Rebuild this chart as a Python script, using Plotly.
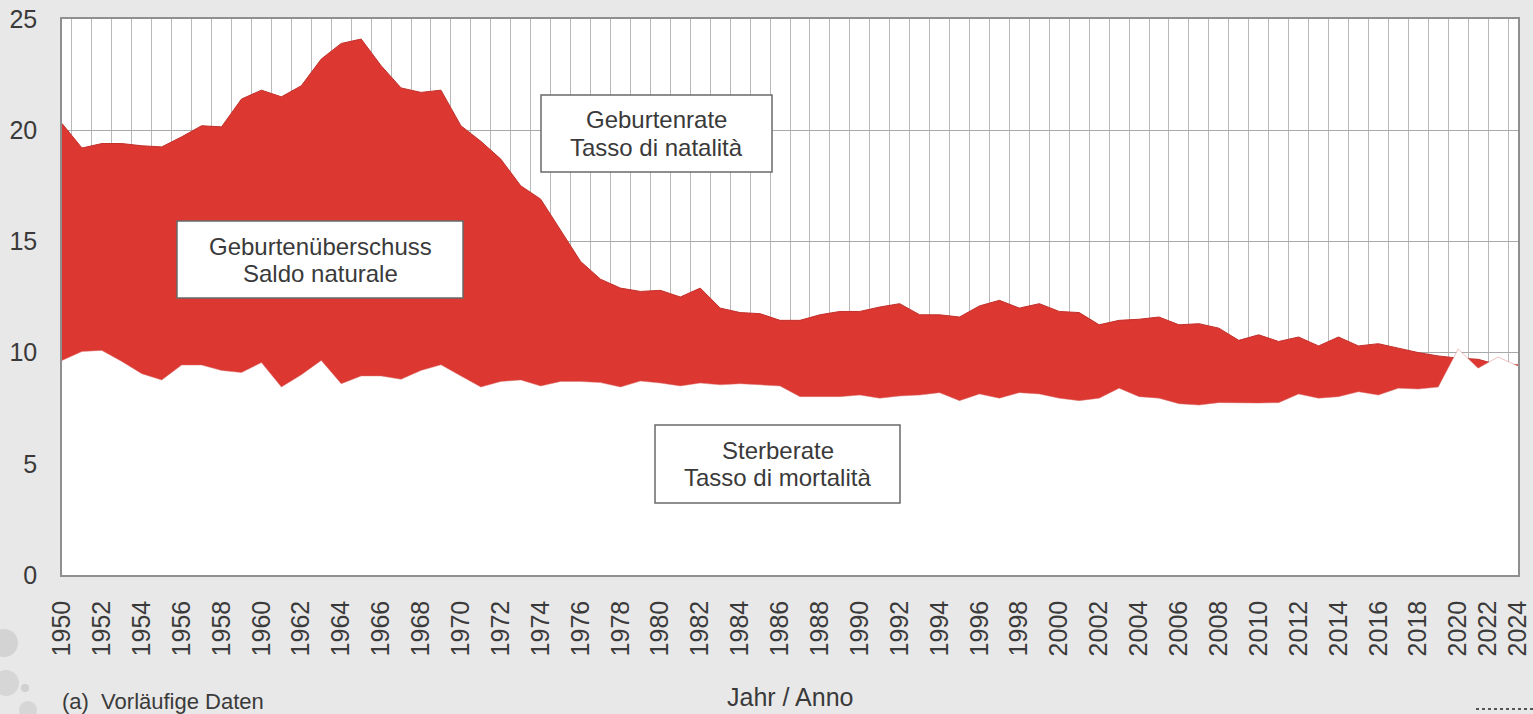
import plotly.graph_objects as go

years = list(range(1950, 2024))

birth_rate = [
    20.3, 19.2, 19.4, 19.4, 19.3, 19.25, 19.7, 20.2, 20.15, 21.4,
    21.8, 21.5, 22.0, 23.2, 23.9, 24.1, 22.9, 21.9, 21.7, 21.8,
    20.2, 19.5, 18.7, 17.5, 16.9, 15.5, 14.1, 13.3, 12.9, 12.75,
    12.8, 12.5, 12.9, 12.0, 11.8, 11.75, 11.45, 11.45, 11.7, 11.85,
    11.85, 12.05, 12.2, 11.7, 11.7, 11.6, 12.1, 12.35, 12.0, 12.2,
    11.85, 11.8, 11.25, 11.45, 11.5, 11.6, 11.25, 11.3, 11.1, 10.55,
    10.8, 10.5, 10.7, 10.3, 10.7, 10.3, 10.4, 10.2, 10.0, 9.85,
    9.75, 9.7, 9.45, 9.45,
]

death_rate = [
    9.65, 10.05, 10.1, 9.6, 9.05, 8.77, 9.44, 9.44, 9.2, 9.1,
    9.55, 8.45, 9.0, 9.65, 8.6, 8.95, 8.95, 8.8, 9.2, 9.45,
    8.95, 8.45, 8.7, 8.77, 8.5, 8.7, 8.7, 8.65, 8.45, 8.72,
    8.63, 8.5, 8.63, 8.55, 8.6, 8.54, 8.5, 8.02, 8.02, 8.02,
    8.09, 7.95, 8.05, 8.09, 8.2, 7.84, 8.14, 7.95, 8.2, 8.14,
    7.95, 7.84, 7.95, 8.4, 8.02, 7.95, 7.7, 7.64, 7.75, 7.73,
    7.73, 7.75, 8.14, 7.95, 8.02, 8.24, 8.09, 8.4, 8.36, 8.45,
    10.16, 9.3, 9.8, 9.4,
]

x_tick_labels = [str(y) for y in range(1950, 2021, 2)] + ["2022", "2024"]
x_tick_positions = list(range(1950, 2021, 2)) + [2021.5, 2023]
y_ticks = [0, 5, 10, 15, 20, 25]

RED = "#dc3731"
FONT = "Liberation Sans, Arial, sans-serif"
TXT = "#3a3a3a"
BG = "#e8e8e8"

fig = go.Figure()
fig.add_trace(go.Scatter(
    x=years, y=birth_rate, mode="lines", fill="tozeroy",
    fillcolor=RED, line=dict(color="#c3302b", width=1),
    name="Geburtenrate", showlegend=False, hoverinfo="x+y",
))
fig.add_trace(go.Scatter(
    x=years, y=death_rate, mode="lines", fill="tozeroy",
    fillcolor="white", line=dict(color="rgba(220,120,115,0.6)", width=0.8),
    name="Sterberate", showlegend=False, hoverinfo="x+y",
))

fig.update_layout(
    width=1533, height=714,
    margin=dict(l=62, r=15, t=19, b=139, autoexpand=False),
    paper_bgcolor=BG, plot_bgcolor="white",
    font=dict(family=FONT, size=26, color=TXT),
    xaxis=dict(
        range=[1950, 2023], tickmode="array",
        tickvals=x_tick_positions, ticktext=x_tick_labels,
        tickangle=-90, tickfont=dict(size=25, color=TXT),
        showgrid=False, ticks="", ticklabelstandoff=14, automargin=False,
        showline=True, linecolor="#8f8f8f", linewidth=1.5, mirror=True,
        minor=dict(tickmode="linear", tick0=1950.5, dtick=1, showgrid=True,
                   gridcolor="#b8b8b8", gridwidth=1, ticks=""),
        zeroline=False,
    ),
    yaxis=dict(
        range=[0, 25], tickmode="array", tickvals=y_ticks,
        tickfont=dict(size=25, color=TXT), automargin=False,
        showgrid=True, gridcolor="#a9a9a9", gridwidth=1, ticks="",
        ticklabelstandoff=18,
        showline=True, linecolor="#8f8f8f", linewidth=1.5, mirror=True,
        zeroline=False,
    ),
)

def px_x(p):
    return (p - 62) / 1456.0

def px_y(p):
    return (575 - p) / 556.0

boxes = [
    ((177, 221, 463, 298), ["Geburtenüberschuss", "Saldo naturale"]),
    ((541, 95, 772, 172), ["Geburtenrate", "Tasso di natalità"]),
    ((655, 425, 900, 503), ["Sterberate", "Tasso di mortalità"]),
]
for (x0, y0, x1, y1), lines in boxes:
    fig.add_shape(type="rect", xref="paper", yref="paper",
                  x0=px_x(x0), x1=px_x(x1), y0=px_y(y1), y1=px_y(y0),
                  fillcolor="white", line=dict(color="#6a6a6a", width=1.5),
                  layer="above")
    cx = (x0 + x1) / 2
    cy = (y0 + y1) / 2
    for i, t in enumerate(lines):
        fig.add_annotation(text=t, xref="paper", yref="paper",
                           x=px_x(cx), y=px_y(cy + (i - 0.5) * 27),
                           xanchor="center", yanchor="middle",
                           showarrow=False, font=dict(size=24, color=TXT))

fig.add_annotation(text="Jahr / Anno", xref="paper", yref="paper",
                   x=px_x(790), y=px_y(697), xanchor="center", yanchor="middle",
                   showarrow=False, font=dict(size=25, color=TXT))
fig.add_annotation(text="(a)  Vorläufige Daten", xref="paper", yref="paper",
                   x=px_x(60), y=px_y(701), xanchor="left", yanchor="middle",
                   showarrow=False, font=dict(size=22, color=TXT))
fig.add_shape(type="line", xref="paper", yref="paper",
              x0=px_x(1476), x1=px_x(1533), y0=px_y(709), y1=px_y(709),
              line=dict(color="#555555", width=2, dash="dot"))

for (cx, cy, r, col) in [(4, 643, 14, "#d3d3d3"), (6, 683, 13, "#d6d6d6"),
                         (25, 688, 4, "#d0d0d0"), (28, 710, 9, "#d6d6d6")]:
    fig.add_shape(type="circle", xref="paper", yref="paper",
                  x0=px_x(cx - r), x1=px_x(cx + r), y0=px_y(cy + r), y1=px_y(cy - r),
                  fillcolor=col, line=dict(width=0), layer="below")

fig.write_html(
    "out.html",
    config={"displayModeBar": False},
    post_script="document.body.style.margin='0';document.body.style.overflow='hidden';"
                "document.body.style.background='" + BG + "';",
)
